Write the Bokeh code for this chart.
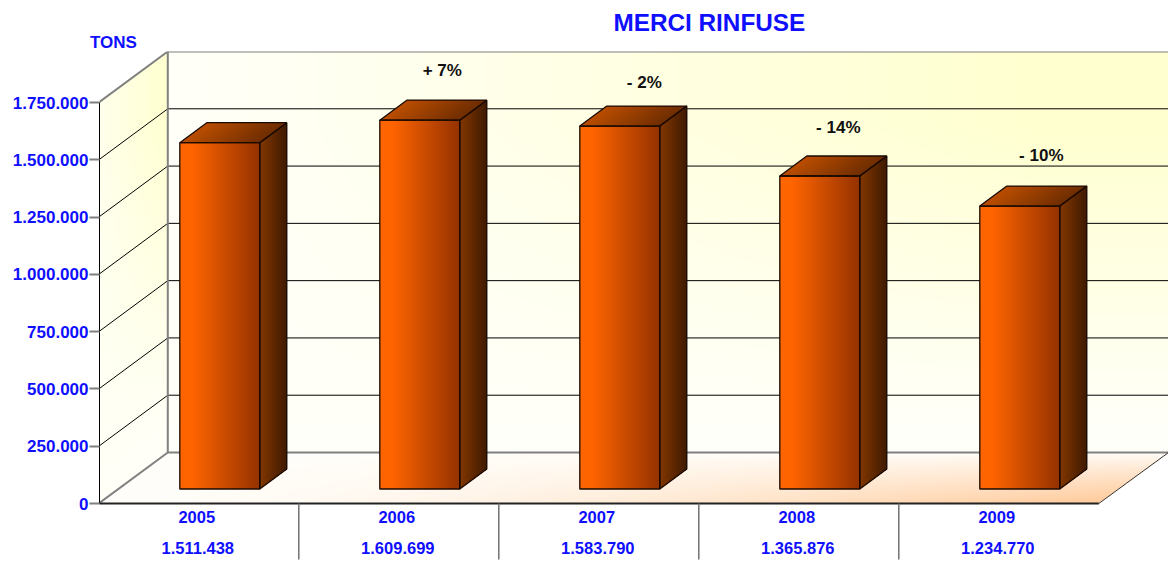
import numpy as np
from bokeh.plotting import figure
from bokeh.models import Range1d, FixedTicker, LinearAxis, Title
from bokeh.core.properties import value
from bokeh.embed import file_html
from bokeh.resources import INLINE

# ---------- data ----------
years = ["2005", "2006", "2007", "2008", "2009"]
tons = [1511438, 1609699, 1583790, 1365876, 1234770]
tons_labels = ["1.511.438", "1.609.699", "1.583.790", "1.365.876", "1.234.770"]
change_labels = ["+ 7%", "- 2%", "- 14%", "- 10%"]
y_ticks = [0, 250000, 500000, 750000, 1000000, 1250000, 1500000, 1750000]
y_tick_labels = ["0", "250.000", "500.000", "750.000", "1.000.000", "1.250.000", "1.500.000", "1.750.000"]

# ---------- layout (in image pixels, converted through the ranges) ----------
W, H = 1168, 561
FRAME_TOP = 51
PX_X = 200.0                      # pixels per category
PX_Y = 401.0 / 1750000            # pixels per ton
Y0_IMG, X0_IMG = 503.0, 99.0
XSHIFT = 0.7
px_x = lambda px: px / PX_X
px_y = lambda px: px / PX_Y
DX, DY = px_x(69), px_y(51)       # depth of the chart box
BDX, BDY = px_x(27), px_y(20)     # depth of a bar
BASE = px_y(14.5)                 # lift of the bar base over the front floor edge
BAR_L, BAR_W = px_x(81), px_x(80)
XMAX = px_x(1168 - X0_IMG + XSHIFT)
YMAX = 1750000 + DY
YTOP = px_y(Y0_IMG - FRAME_TOP)
YBOT = -px_y(561 - Y0_IMG)
BLUE, GREY = "#0f0fff", "#808080"
FONT = "Liberation Sans"

p = figure(width=W, height=H, output_backend="svg", toolbar_location=None,
           x_range=Range1d(px_x(XSHIFT), XMAX), y_range=Range1d(YBOT, YTOP),
           min_border_left=int(X0_IMG), min_border_right=0, min_border_top=FRAME_TOP, min_border_bottom=0,
           x_axis_location=None, outline_line_color=None, background_fill_color="white",
           border_fill_color="white")
p.xgrid.visible = False
p.ygrid.visible = False

# ---------- y axis ----------
ax = p.yaxis[0]
ax.ticker = FixedTicker(ticks=y_ticks)
ax.major_label_overrides = dict(zip(y_ticks, y_tick_labels))
ax.bounds = (0, 1750000)
ax.major_tick_in, ax.major_tick_out = 0, 10
ax.minor_tick_line_color = None
ax.major_tick_line_color = GREY
ax.major_tick_line_width = 2
ax.axis_line_color = "black"
ax.major_label_standoff = 1
ax.major_label_text_color = BLUE
ax.major_label_text_font = FONT
ax.major_label_text_font_style = "bold"
ax.major_label_text_font_size = "17px"

# ---------- unit caption, as the one label of an axis above the plot ----------
unit_x = px_x(113 - X0_IMG + XSHIFT)
top_axis = LinearAxis(ticker=FixedTicker(ticks=[unit_x]), major_label_overrides={unit_x: "TONS"})
top_axis.axis_line_color = None
top_axis.major_tick_line_color = None
top_axis.minor_tick_line_color = None
top_axis.major_tick_out = 0
top_axis.major_tick_in = 0
top_axis.major_label_standoff = 0
top_axis.major_label_text_color = BLUE
top_axis.major_label_text_font = FONT
top_axis.major_label_text_font_style = "bold"
top_axis.major_label_text_font_size = "17px"
p.add_layout(top_axis, "above")

# ---------- title ----------
p.title = Title(text="MERCI RINFUSE", align="left", offset=613 - X0_IMG, standoff=-13,
                text_color=BLUE, text_font=FONT, text_font_style="bold", text_font_size="24.3px")


def lerp(stops, t):
    xs = [s[0] for s in stops]
    return np.stack([np.interp(t, xs, [s[1][i] for s in stops]) for i in range(3)], axis=-1)


def rgba(rgb, alpha=None):
    h, w = rgb.shape[:2]
    out = np.zeros((h, w), dtype=np.uint32)
    v = out.view(dtype=np.uint8).reshape((h, w, 4))
    v[..., :3] = rgb.astype(np.uint8)
    v[..., 3] = 255 if alpha is None else alpha
    return out


# ---------- back wall ----------
nx, ny = int(XMAX * PX_X - 69), 400
u, v = np.meshgrid(np.linspace(0, 1, nx), np.linspace(0, 1, ny))   # v: 0 bottom, 1 top
amount = np.clip(u * 1.15, 0, 1) * np.clip(v * 1.35 - 0.1, 0, 1)
wall = np.stack([255 - 0 * amount, 255 - 0 * amount, 249 - 41 * amount], axis=-1)
p.image_rgba(image=[rgba(wall)], x=[DX], y=[DY], dw=[XMAX - DX], dh=[1750000])

# ---------- left wall ----------
nx, ny = 69, 452
xs, ys = np.meshgrid(np.linspace(0, DX, nx), np.linspace(0, 1750000 + DY, ny))
frac = xs / DX
low = frac * DY
mask = (ys >= low) & (ys <= low + 1750000)
vv = (ys - low) / 1750000
amount = (0.25 + 0.75 * frac) * np.clip(vv * 1.3 - 0.1, 0, 1)
lw = np.stack([np.full_like(amount, 255), np.full_like(amount, 255), 247 - 39 * amount], axis=-1)
p.image_rgba(image=[rgba(lw, mask * 255)], x=[0], y=[0], dw=[DX], dh=[1750000 + DY])

# ---------- floor ----------
nx, ny = int(XMAX * PX_X), 51
xs, ys = np.meshgrid(np.linspace(0, XMAX, nx), np.linspace(0, DY, ny))
shift = ys / DY * DX
mask = (xs >= shift) & (xs <= 5 + shift)
uu = np.clip((xs - shift) / 5, 0, 1)
front = np.clip(1 - ys / DY, 0, 1)
amount = np.clip(uu ** 1.6, 0, 1) * front ** 0.8
fl = lerp([(0, (255, 254, 250)), (1, (255, 203, 155))], amount)
p.image_rgba(image=[rgba(fl, mask * 255)], x=[0], y=[0], dw=[XMAX], dh=[DY])

# ---------- grid ----------
inner = y_ticks[1:-1]
p.segment(x0=[0] * len(inner), y0=inner, x1=[DX] * len(inner), y1=[t + DY for t in inner],
          line_color="black", line_width=1)
p.segment(x0=[DX] * len(inner), y0=[t + DY for t in inner], x1=[XMAX] * len(inner),
          y1=[t + DY for t in inner], line_color="black", line_width=1)
p.line([0, DX, DX, XMAX], [1750000, YMAX, YMAX, YMAX], line_color=GREY, line_width=2)
p.line([0, DX, DX, XMAX], [0, DY, DY, DY], line_color=GREY, line_width=2)
p.line([DX, DX], [DY, YMAX], line_color=GREY, line_width=2)
p.line([5, XMAX], [0, DY], line_color="#333333", line_width=1)
p.line([0, 5], [0, 0], line_color="#222222", line_width=2)

# ---------- bars ----------
STRIPS = 40
front_stops = [(0, (255, 102, 0)), (0.15, (254, 101, 0)), (1, (150, 51, 0))]
top_stops = [(0, (186, 78, 0)), (1, (112, 46, 0))]
side_stops = [(0, (128, 55, 0)), (1, (66, 27, 0))]


def hexes(stops, n):
    return ["#%02x%02x%02x" % tuple(int(c) for c in row) for row in lerp(stops, np.linspace(0, 1, n))]


for k, val in enumerate(tons):
    x0, x1 = k + BAR_L, k + BAR_L + BAR_W
    y0, y1 = BASE, BASE + val
    # front: each strip runs on to the right edge, so later strips cover it without seams
    edges = np.linspace(x0, x1, STRIPS + 1)
    cols = hexes(front_stops, STRIPS)
    p.quad(left=edges[:-1], right=[x1] * STRIPS, bottom=y0, top=y1, fill_color=cols, line_color=None)
    # side
    n = 14
    f = np.linspace(0, 1, n + 1)
    cols = hexes(side_stops, n)
    p.patches([[x1 + BDX * f[i], x1 + BDX, x1 + BDX, x1 + BDX * f[i]] for i in range(n)],
              [[y0 + BDY * f[i], y0 + BDY, y1 + BDY, y1 + BDY * f[i]] for i in range(n)],
              fill_color=cols, line_color=None)
    # top
    n = 30
    f = np.linspace(0, 1, n + 1)
    cols = hexes(top_stops, n)
    p.patches([[x0 + BAR_W * f[i], x1, x1 + BDX, x0 + BAR_W * f[i] + BDX] for i in range(n)],
              [[y1, y1, y1 + BDY, y1 + BDY] for i in range(n)],
              fill_color=cols, line_color=None)
    # outlines
    p.patches([[x0, x1, x1, x0],
               [x1, x1 + BDX, x1 + BDX, x1],
               [x0, x1, x1 + BDX, x0 + BDX]],
              [[y0, y0, y1, y1],
               [y0, y0 + BDY, y1 + BDY, y1],
               [y1, y1, y1 + BDY, y1 + BDY]],
              fill_color=None, line_color="#1a0a00", line_width=1.3)

# ---------- change labels ----------
nudge_x = [9, 11, 5, 8]
nudge_y = [30, 24, 29, 31]
lx = [k + 1 + BAR_L + BAR_W / 2 + BDX / 2 + px_x(n) for k, n in enumerate(nudge_x)]
ly = [BASE + tons[k + 1] + BDY + px_y(n) for k, n in enumerate(nudge_y)]
p.text(x=lx, y=ly, text=change_labels, text_align="center", text_baseline="middle",
       text_color="#111111", text_font=value(FONT), text_font_style="bold", text_font_size="17px")

# ---------- category row ----------
common = dict(text_align="center", text_baseline="middle", text_color=BLUE,
              text_font=value(FONT), text_font_style="bold", text_font_size="16.5px")
p.text(x=[k + 0.49 for k in range(5)], y=[-px_y(13)] * 5, text=years, **common)
p.text(x=[k + 0.495 for k in range(5)], y=[-px_y(44)] * 5, text=tons_labels, **common)
dividers = [1, 2, 3, 4]
p.segment(x0=dividers, y0=[0] * 4, x1=dividers, y1=[-px_y(56)] * 4, line_color="#707070", line_width=1.5)

open("out.html", "w").write(file_html(p, INLINE))
